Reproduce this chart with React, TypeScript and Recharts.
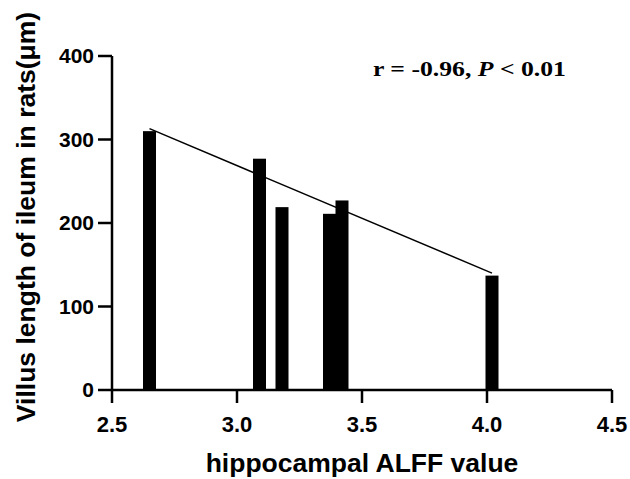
import React from 'react';
import { ComposedChart, Bar, XAxis, YAxis, ReferenceLine } from 'recharts';

// hippocampal ALFF value (x) and villus length of ileum (y)
const alffValues = [2.65, 3.09, 3.18, 3.37, 3.42, 4.02];
const villusLengths = [310, 277, 219, 211, 227, 137];
const xTicks = [2.5, 3.0, 3.5, 4.0, 4.5];
const yTicks = [0, 100, 200, 300, 400];
// regression line end points
const fitX = [2.65, 4.02];
const fitY = [313, 140];

const data = alffValues.map((x, i) => ({ x, y: villusLengths[i] }));

const SANS = '"Liberation Sans", Arial, Helvetica, sans-serif';
const SERIF = '"Liberation Serif", "Times New Roman", serif';

const BAR_W = 13;

const BarShape = (props: any) => {
  const { x, y, width, height } = props;
  if (height == null || isNaN(height)) return null;
  const cx = x + width / 2;
  return <rect x={cx - BAR_W / 2} y={y} width={BAR_W} height={height} fill="#000" />;
};

export default function App() {
  return (
    <div style={{ position: 'absolute', left: 0, top: 0, width: 630, height: 479, background: '#fff' }}>
      <ComposedChart
        width={630}
        height={479}
        data={data}
        margin={{ top: 56, right: 18, bottom: 0, left: 0 }}
      >
        <XAxis
          type="number"
          dataKey="x"
          domain={[2.5, 4.5]}
          ticks={xTicks}
          allowDataOverflow
          tickFormatter={(v: number) => v.toFixed(1)}
          height={89}
          tickSize={13}
          tickMargin={13}
          axisLine={{ stroke: '#000', strokeWidth: 2.5 }}
          tickLine={{ stroke: '#000', strokeWidth: 2.5 }}
          tick={{ fill: '#000', fontSize: 22, fontWeight: 700, fontFamily: SANS }}
          label={{
            value: 'hippocampal ALFF value',
            position: 'insideBottom',
            offset: 7,
            fill: '#000',
            fontSize: 26.5,
            fontWeight: 700,
            fontFamily: SANS,
          }}
        />
        <YAxis
          type="number"
          domain={[0, 400]}
          ticks={yTicks}
          allowDataOverflow
          width={112}
          tickSize={14}
          tickMargin={4}
          axisLine={{ stroke: '#000', strokeWidth: 2.5 }}
          tickLine={{ stroke: '#000', strokeWidth: 2.5 }}
          tick={{ fill: '#000', fontSize: 21, fontWeight: 700, fontFamily: SANS }}
          label={{
            value: 'Villus length of ileum in rats(μm)',
            angle: -90,
            position: 'insideLeft',
            offset: 25.5,
            dy: -6,
            fill: '#000',
            fontSize: 26.5,
            fontWeight: 700,
            fontFamily: SANS,
            style: { textAnchor: 'middle' },
          }}
        />
        <Bar
          dataKey="y"
          fill="#000"
          barCategoryGap={0}
          shape={BarShape}
          isAnimationActive={false}
        />
        <ReferenceLine
          segment={[
            { x: fitX[0], y: fitY[0] },
            { x: fitX[1], y: fitY[1] },
          ]}
          stroke="#000"
          strokeWidth={1.5}
          ifOverflow="visible"
        />
      </ComposedChart>
      <svg
        width={630}
        height={479}
        style={{ position: 'absolute', left: 0, top: 0, pointerEvents: 'none' }}
      >
        <text
          x={373}
          y={76}
          fontFamily={SERIF}
          fontWeight={700}
          fontSize={22}
          fill="#000"
          textLength={193}
          lengthAdjust="spacingAndGlyphs"
        >
          r = -0.96, <tspan fontStyle="italic">P</tspan> {'< 0.01'}
        </text>
      </svg>
    </div>
  );
}
